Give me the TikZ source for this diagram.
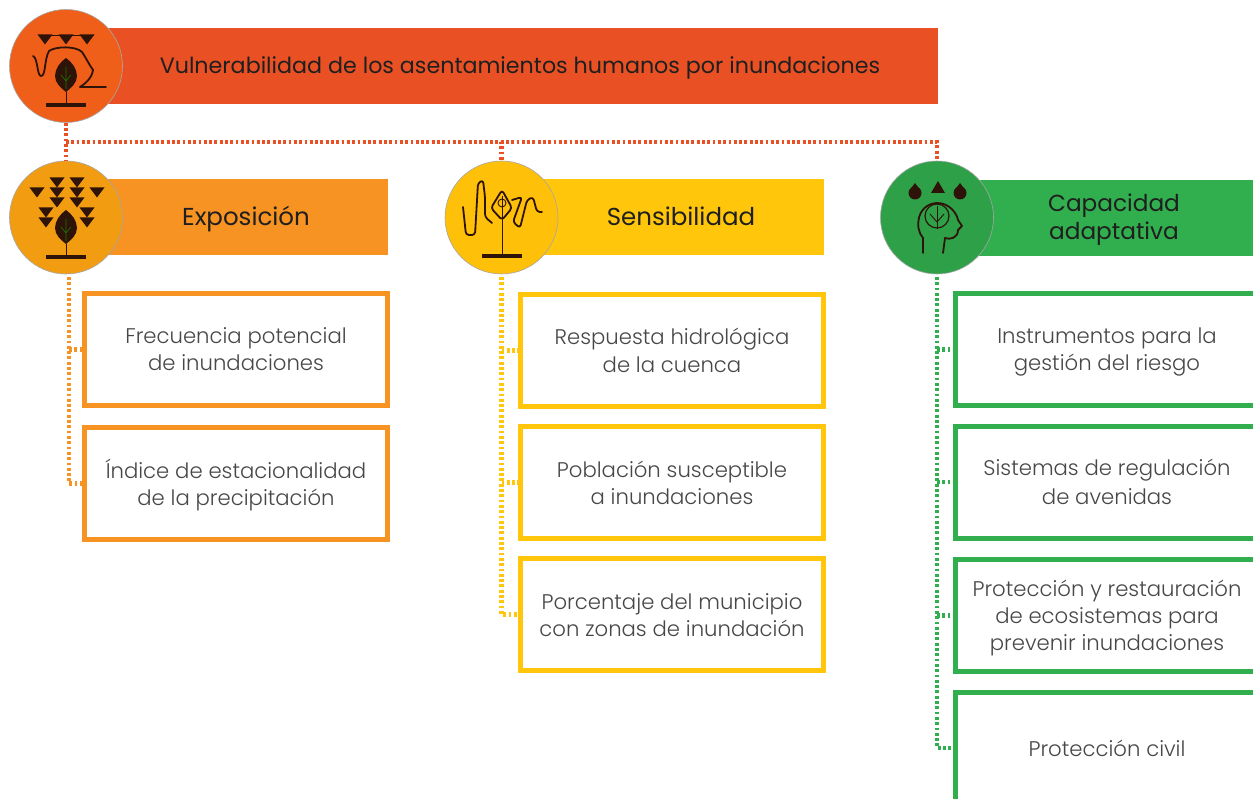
\documentclass[tikz,border=0pt]{standalone}
\usepackage{fontspec}
\newfontfamily\lightf{Poppins Light}
\newfontfamily\medf{Poppins}
\definecolor{cred}{HTML}{E95125}
\definecolor{corange}{HTML}{F69322}
\definecolor{cyellow}{HTML}{FFC60B}
\definecolor{cgreen}{HTML}{31AE4E}
\definecolor{discorange}{HTML}{F29C12}
\definecolor{ink}{HTML}{2E1408}
\newcommand{\hsz}[1]{\medf\fontsize{#1}{27}\selectfont}
\newcommand{\st}{\rule[-5.5pt]{0pt}{27pt}}
\tikzset{
 bar/.style={fill=#1,draw=none,minimum height=76pt,inner sep=0pt,text=black!88,align=center},
 disc/.style={circle,fill=#1,draw=black!35,line width=0.6pt,minimum size=113pt,inner sep=0pt},
 itembox/.style={draw=#1,fill=white,line width=5pt,minimum width=303pt,minimum height=112pt,inner sep=0pt,text=black!72,font=\lightf\fontsize{21.2}{27}\selectfont,align=center},
 dots/.style={draw=#1,line width=4.5pt,dash pattern=on 2.8pt off 2.5pt},
 ico/.style={draw=ink,line width=1.8pt,line join=round,line cap=round},
}
\newcommand{\tri}[2]{\fill[ink] (#1-7.5,#2-4.5) -- (#1+7.5,#2-4.5) -- (#1,#2+5.5) -- cycle;}
\newcommand{\leafbar}[2]{%
 \fill[ink] (#1,#2-17) .. controls (#1+6,#2-13) and (#1+11,#2-6) .. (#1+11,#2+1) .. controls (#1+11,#2+8) and (#1+5,#2+13) .. (#1,#2+17) .. controls (#1-5,#2+13) and (#1-11,#2+8) .. (#1-11,#2+1) .. controls (#1-11,#2-6) and (#1-6,#2-13) .. (#1,#2-17) -- cycle;
 \draw[ink!60!green,line width=.6pt] (#1,#2-8) -- (#1,#2+14) (#1,#2+6) -- (#1-5,#2) (#1,#2+6) -- (#1+5,#2);
 \draw[ink,line width=.8pt] (#1,#2+17) -- (#1,#2+30);
 \fill[ink] (#1-20,#2+28) rectangle (#1+20,#2+32);}
\begin{document}
\begin{tikzpicture}[x=1pt,y=-1pt]
\useasboundingbox (0,0) rectangle (1253,799);
\fill[white] (0,0) rectangle (1253,799);
% bars
\node[bar=cred,minimum width=836pt,font=\hsz{22.2}] (bV) at (520,66) {\st Vulnerabilidad de los asentamientos humanos por inundaciones};
\node[bar=corange,minimum width=284pt,font=\hsz{24.5}] (bE) at (246,217.5) {\st Exposición};
\node[bar=cyellow,minimum width=286pt,font=\hsz{24.5}] (bS) at (681,217.5) {\st Sensibilidad};
\node[bar=cgreen,minimum width=322pt,font=\hsz{23.2}] (bC) at (1114,218) {\st Capacidad\\\st adaptativa};
% discs
\node[disc=cred!70!orange] (cV) at (66,66) {};
\node[disc=discorange] (cE) at (66,217.5) {};
\node[disc=cyellow!92!orange] (cS) at (501.5,217.5) {};
\node[disc=cgreen!92!black] (cC) at (937,217.5) {};
% top connectors
\coordinate (hV) at (66,142);
\draw[dots=cred] (cV.south) -- (cE.north);
\draw[dots=cred] (hV) -| (cS.north);
\draw[dots=cred] (hV) -| (cC.north);
% item boxes
\node[itembox=corange] (e1) at (236,349.5) {\st Frecuencia potencial\\\st de inundaciones};
\node[itembox=corange] (e2) at (236,483.5) {\st Índice de estacionalidad\\\st de la precipitación};
\node[itembox=cyellow] (s1) at (672,350.5) {\st Respuesta hidrológica\\\st de la cuenca};
\node[itembox=cyellow] (s2) at (672,482.5) {\st Población susceptible\\\st a inundaciones};
\node[itembox=cyellow] (s3) at (672,614.5) {\st Porcentaje del municipio\\\st con zonas de inundación};
\node[itembox=cgreen] (c1) at (1107,349.5) {\st Instrumentos para la\\\st gestión del riesgo};
\node[itembox=cgreen] (c2) at (1107,482) {\st Sistemas de regulación\\\st de avenidas};
\node[itembox=cgreen] (c3) at (1107,615.5) {\st Protección y restauración\\\st de ecosistemas para\\\st prevenir inundaciones};
\node[itembox=cgreen] (c4) at (1107,748) {\st Protección civil};
% side connectors
\coordinate (tE) at (69,277);
\coordinate (tS) at (501.5,277);
\coordinate (tC) at (937,277);
\draw[dots=corange] (tE) |- (e2.west);
\draw[dots=corange] (tE |- e1.west) -- (e1.west);
\draw[dots=cyellow] (tS) |- (s3.west);
\draw[dots=cyellow] (tS |- s1.west) -- (s1.west);
\draw[dots=cyellow] (tS |- s2.west) -- (s2.west);
\draw[dots=cgreen] (tC) |- (c4.west);
\draw[dots=cgreen] (tC |- c1.west) -- (c1.west);
\draw[dots=cgreen] (tC |- c2.west) -- (c2.west);
\draw[dots=cgreen] (tC |- c3.west) -- (c3.west);
% icon: vulnerabilidad
\tri{45}{39}\tri{66}{39}\tri{87}{39}
\draw[ink,line width=1pt] (40,36) -- (94,36);
\draw[ico] (33,56) .. controls (38,58) and (37,76) .. (41,76) .. controls (46,76) and (44,60) .. (49,51) .. controls (56,46) and (76,46) .. (82,52) .. controls (86,58) and (90,66) .. (93,70) .. controls (92,78) and (85,84) .. (80,87) -- (106,87);
\leafbar{66}{75}
% icon: exposicion
\tri{57}{182}\tri{77}{182}\tri{37}{192}\tri{97}{192}\tri{57}{192}\tri{77}{192}\tri{57}{202}\tri{77}{202}\tri{46}{212}\tri{87}{212}\tri{46}{222}\tri{87}{222}
\leafbar{66}{227}
% icon: sensibilidad
\draw[ico,rounded corners=3pt] (463,207) -- (466,235) -- (475,235) -- (478,183) -- (483,180) -- (485,197) -- (485,217) -- (492,223);
\draw[ico,rounded corners=3pt] (502,190) -- (491,208) -- (502,220) -- (512,208) -- cycle;
\draw[ico,rounded corners=3pt] (512,200) -- (522,197) -- (513,222) -- (520,228) -- (527,200) -- (533,197) -- (537,212) -- (542,212);
\draw[ink,line width=.9pt] (502,196) -- (502,254);
\draw[ink,line width=.9pt] (502,203) circle (4pt);
\fill[ink] (482,254) rectangle (522,258);
% icon: capacidad
\fill[ink] (915,193) circle (6.5pt);
\fill[ink] (915,183) -- (921,191) -- (909,191) -- cycle;
\fill[ink] (960,193) circle (6.5pt);
\fill[ink] (960,183) -- (966,191) -- (954,191) -- cycle;
\fill[ink] (938,181) -- (945,193) -- (931,193) -- cycle;
\draw[ico] (923,253) -- (923,238) .. controls (914,228) and (917,204) .. (937,203) .. controls (950,203) and (957,214) .. (958,220) -- (962,226) -- (958,230) .. controls (958,238) and (950,240) .. (945,238) -- (943,253);
\draw[ico,line width=1.2pt] (937,216) circle (12pt);
\draw[ink,line width=.9pt] (937,206) -- (937,229);
\draw[ink,line width=.9pt] (937,222) -- (930,214) (937,222) -- (944,214);
\end{tikzpicture}
\end{document}
